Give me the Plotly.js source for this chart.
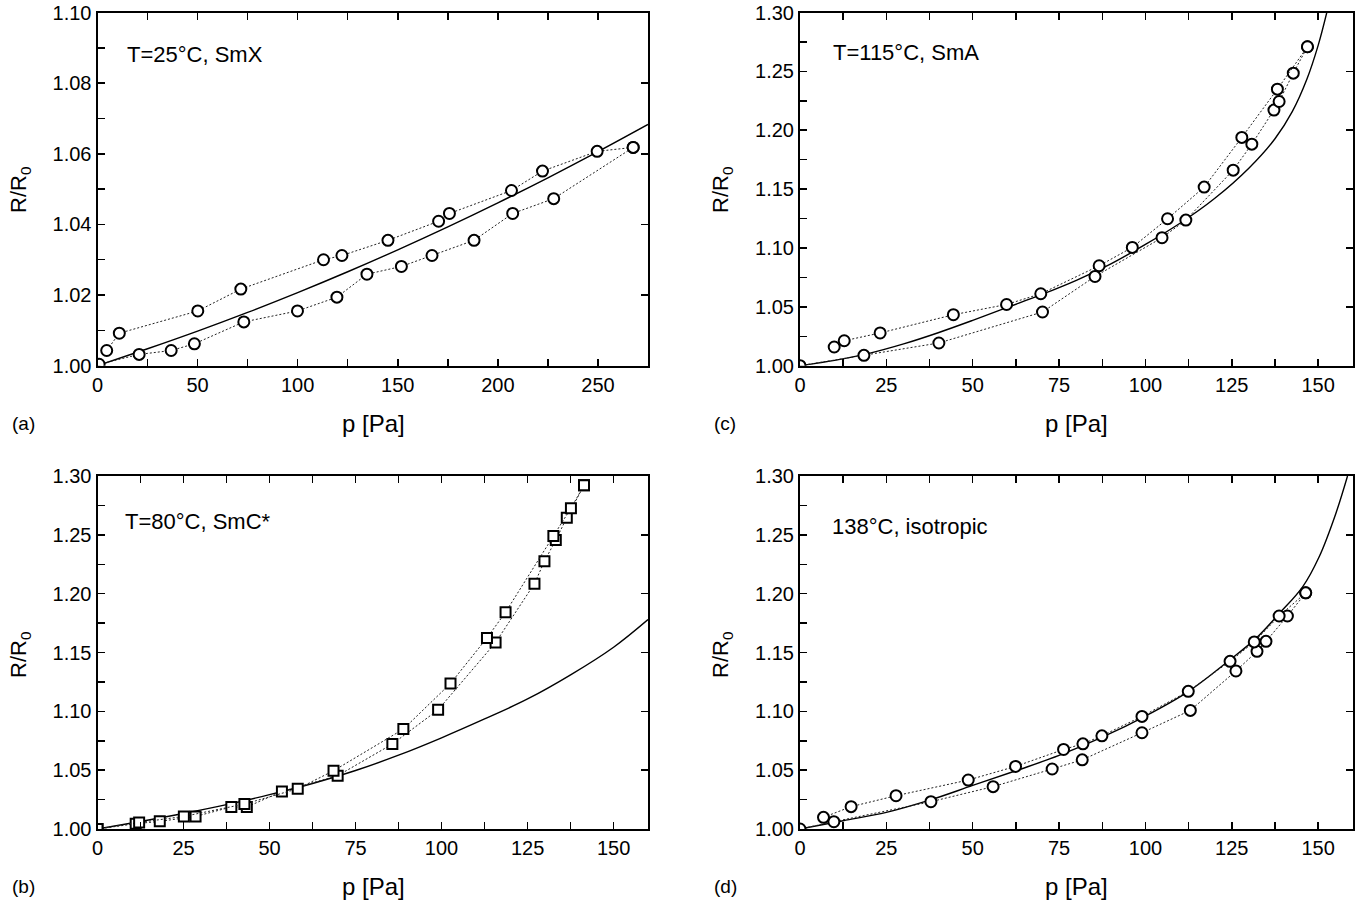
<!DOCTYPE html>
<html>
<head>
<meta charset="utf-8">
<script src="https://cdn.plot.ly/plotly-3.0.1.min.js"></script>
<style>html,body{margin:0;padding:0;background:#fff;}#chart{width:1363px;height:907px;}</style>
</head>
<body>
<div id="chart"></div>
<script>
// ---------- Panel (a): T=25°C, SmX ----------
const aUpP = [4.6, 10.9, 50.1, 71.6, 112.9, 122.1, 145.1, 170.4, 175.8, 206.8, 222.3, 249.6, 267.6];
const aUpR = [1.0043, 1.0092, 1.0155, 1.0217, 1.0300, 1.0312, 1.0355, 1.0409, 1.0431, 1.0496, 1.0551, 1.0607, 1.0618];
const aLoP = [0.8, 20.8, 36.8, 48.4, 73.1, 99.9, 119.6, 134.6, 151.8, 167.1, 188.1, 207.4, 227.9, 267.6];
const aLoR = [1.0004, 1.0032, 1.0043, 1.0062, 1.0124, 1.0155, 1.0194, 1.0259, 1.0281, 1.0312, 1.0355, 1.0431, 1.0473, 1.0618];
const aFitP = [0, 25, 50, 75, 100, 125, 150, 175, 200, 225, 250, 275];
const aFitR = [1.0, 1.0048, 1.0098, 1.0151, 1.0207, 1.0266, 1.0328, 1.0393, 1.0461, 1.0532, 1.0606, 1.0683];

// ---------- Panel (c): T=115°C, SmA ----------
const cUpP = [9.9, 12.8, 23.2, 44.4, 59.8, 69.7, 86.6, 96.2, 106.4, 117.0, 127.9, 138.2, 146.9];
const cUpR = [1.0159, 1.0212, 1.0278, 1.0433, 1.0520, 1.0611, 1.0849, 1.1005, 1.1248, 1.1517, 1.1939, 1.2349, 1.2709];
const cLoP = [0, 18.5, 40.2, 70.2, 85.4, 104.8, 111.7, 125.4, 130.8, 137.2, 138.7, 142.8, 146.9];
const cLoR = [1.0, 1.0088, 1.0193, 1.0456, 1.0758, 1.1087, 1.1237, 1.1661, 1.1882, 1.2171, 1.2244, 1.2485, 1.2709];
const cFitP = [0, 10, 20, 30, 40, 50, 60, 70, 80, 90, 100, 110, 120, 130, 137.5, 142.5, 146.7, 150, 152.6];
const cFitR = [1.0, 1.0045, 1.0105, 1.0185, 1.028, 1.0385, 1.0495, 1.0605, 1.0725, 1.0865, 1.103, 1.121, 1.142, 1.168, 1.1928, 1.2158, 1.2431, 1.2721, 1.3012];

// ---------- Panel (b): T=80°C, SmC* ----------
const bUpP = [0, 12.1, 25.1, 42.7, 58.2, 68.6, 88.9, 102.6, 113.2, 118.6, 132.5, 137.6, 141.4];
const bUpR = [1.0, 1.0056, 1.0107, 1.0212, 1.0342, 1.0495, 1.0849, 1.1237, 1.1624, 1.1842, 1.2490, 1.2726, 1.2921];
const bLoP = [0, 11.1, 18.1, 28.5, 38.9, 43.4, 53.6, 69.8, 85.7, 99.0, 115.7, 127.0, 129.9, 133.2, 136.4, 141.4];
const bLoR = [1.0, 1.0045, 1.0065, 1.0107, 1.0187, 1.0187, 1.0319, 1.0453, 1.0722, 1.1013, 1.1585, 1.2085, 1.2276, 1.2456, 1.2646, 1.2921];
const bFitP = [0, 12.5, 25, 37.5, 50, 62.5, 75, 87.5, 100, 112.5, 125, 137.5, 150, 160];
const bFitR = [1.0, 1.0064, 1.0132, 1.0207, 1.0292, 1.0387, 1.0497, 1.0627, 1.0775, 1.0935, 1.1105, 1.131, 1.1545, 1.178];

// ---------- Panel (d): 138°C, isotropic ----------
const dUpP = [6.8, 14.8, 27.8, 48.7, 62.4, 76.3, 81.9, 87.4, 99.0, 112.4, 124.5, 131.5, 138.7, 146.4];
const dUpR = [1.0099, 1.0190, 1.0283, 1.0416, 1.0532, 1.0676, 1.0724, 1.0792, 1.0957, 1.1170, 1.1425, 1.1590, 1.1810, 1.2007];
const dLoP = [0, 9.8, 37.9, 55.9, 73.0, 81.7, 99.0, 113.0, 126.2, 132.3, 134.9, 141.1, 146.4];
const dLoR = [1.0, 1.0062, 1.0232, 1.0360, 1.0510, 1.0588, 1.0818, 1.1008, 1.1343, 1.1510, 1.1595, 1.1810, 1.2007];
const dFitP = [0, 12.5, 25, 37.5, 50, 62.5, 75, 87.5, 100, 112.5, 124.3, 132, 138.7, 145.5, 150.3, 155.1, 158.5];
const dFitR = [1.0, 1.007, 1.0141, 1.0245, 1.037, 1.0495, 1.0625, 1.078, 1.096, 1.117, 1.1434, 1.162, 1.183, 1.2058, 1.2314, 1.268, 1.30];

const FONT = 'Liberation Sans, Arial, Helvetica, sans-serif';
const W = 1363, H = 907;

function fit(x, y, xa, ya) {
  return {x: x, y: y, xaxis: xa, yaxis: ya, mode: 'lines', type: 'scatter',
    line: {color: '#000', width: 1.4, shape: 'spline', smoothing: 1}, hoverinfo: 'skip', showlegend: false};
}
function dat(x, y, xa, ya, sym) {
  return {x: x, y: y, xaxis: xa, yaxis: ya, mode: 'lines+markers', type: 'scatter',
    line: {color: '#222', width: 1, dash: '2px,2px'},
    marker: {symbol: sym, size: sym === 'square' ? 10 : 11, color: '#fff', line: {color: '#000', width: 2}},
    showlegend: false};
}
function blank(xa, ya) {
  return {x: [null], y: [null], xaxis: xa, yaxis: ya, type: 'scatter', mode: 'markers', showlegend: false, hoverinfo: 'skip'};
}

const traces = [
  fit(aFitP, aFitR, 'x', 'y'), dat(aLoP, aLoR, 'x', 'y', 'circle'), dat(aUpP, aUpR, 'x', 'y', 'circle'),
  fit(cFitP, cFitR, 'x2', 'y2'), dat(cLoP, cLoR, 'x2', 'y2', 'circle'), dat(cUpP, cUpR, 'x2', 'y2', 'circle'),
  fit(bFitP, bFitR, 'x3', 'y3'), dat(bLoP, bLoR, 'x3', 'y3', 'square'), dat(bUpP, bUpR, 'x3', 'y3', 'square'),
  fit(dFitP, dFitR, 'x4', 'y4'), dat(dLoP, dLoR, 'x4', 'y4', 'circle'), dat(dUpP, dUpR, 'x4', 'y4', 'circle'),
  blank('x', 'y5'), blank('x2', 'y6'), blank('x3', 'y7'), blank('x4', 'y8')
];

const tickFont = {family: FONT, size: 20, color: '#000'};
function xAx(domain, anchor, range, dt) {
  return {domain: domain, anchor: anchor, range: range, tickmode: 'linear', tick0: 0, dtick: dt,
    ticks: 'inside', ticklen: 7, tickwidth: 1.5, tickcolor: '#000', mirror: 'ticks',
    minor: {tickmode: 'linear', tick0: 0, dtick: dt / 2, ticks: 'inside', ticklen: 7, tickwidth: 1.5, tickcolor: '#000'},
    showline: true, linewidth: 2, linecolor: '#000', showgrid: false, zeroline: false,
    tickfont: tickFont, fixedrange: true};
}
function yAx(domain, anchor, range, dt) {
  return {domain: domain, anchor: anchor, range: range, tickmode: 'linear', tick0: 1, dtick: dt, tickformat: '.2f',
    ticks: 'inside', ticklen: 7, tickwidth: 1.5, tickcolor: '#000', mirror: true,
    minor: {tickmode: 'linear', tick0: 1, dtick: dt / 2, ticks: 'inside', ticklen: 7, tickwidth: 1.5, tickcolor: '#000'},
    showline: true, linewidth: 2, linecolor: '#000', showgrid: false, zeroline: false,
    tickfont: tickFont, fixedrange: true};
}
function yRight(over, anchor, range, dt) {
  return {overlaying: over, side: 'right', anchor: anchor, range: range, tickmode: 'linear', tick0: 1, dtick: dt,
    ticks: 'inside', ticklen: 7, tickwidth: 1.5, tickcolor: '#000', showticklabels: false,
    showline: false, showgrid: false, zeroline: false, fixedrange: true};
}

const xL = [97.5 / W, 648 / W], xR = [800 / W, 1352.7 / W];
const yT = [1 - 365.7 / H, 1 - 12.5 / H], yB = [1 - 829 / H, 1 - 476 / H];

function ann(text, px, py, xa, ya, size, angle) {
  return {text: text, x: px / W, y: 1 - py / H, xref: 'paper', yref: 'paper', xanchor: xa, yanchor: ya,
    showarrow: false, textangle: angle || 0, font: {family: FONT, size: size, color: '#000'}};
}

const annotations = [
  ann('T=25°C, SmX', 125, 55, 'left', 'middle', 22),
  ann('T=115°C, SmA', 831, 53, 'left', 'middle', 22),
  ann('T=80°C, SmC*', 123, 521, 'left', 'middle', 22),
  ann('138°C, isotropic', 830, 526, 'left', 'middle', 22),
  ann('p [Pa]', 373, 423, 'center', 'middle', 24),
  ann('p [Pa]', 1076, 423, 'center', 'middle', 24),
  ann('p [Pa]', 373, 886, 'center', 'middle', 24),
  ann('p [Pa]', 1076, 886, 'center', 'middle', 24),
  ann('R/R<sub>0</sub>', 20, 190, 'center', 'middle', 22, -90),
  ann('R/R<sub>0</sub>', 722, 190, 'center', 'middle', 22, -90),
  ann('R/R<sub>0</sub>', 20, 655, 'center', 'middle', 22, -90),
  ann('R/R<sub>0</sub>', 722, 655, 'center', 'middle', 22, -90),
  ann('(a)', 10, 423, 'left', 'middle', 19),
  ann('(c)', 712, 423, 'left', 'middle', 19),
  ann('(b)', 10, 886, 'left', 'middle', 19),
  ann('(d)', 712, 886, 'left', 'middle', 19)
];

const layout = {
  width: W, height: H, margin: {l: 0, r: 0, t: 0, b: 0}, paper_bgcolor: '#fff', plot_bgcolor: '#fff',
  showlegend: false, font: {family: FONT, color: '#000'},
  xaxis: xAx(xL, 'y', [0, 275], 50),
  yaxis: yAx(yT, 'x', [1.0, 1.1], 0.02),
  xaxis2: xAx(xR, 'y2', [0, 160], 25),
  yaxis2: yAx(yT, 'x2', [1.0, 1.3], 0.05),
  xaxis3: xAx(xL, 'y3', [0, 160], 25),
  yaxis3: yAx(yB, 'x3', [1.0, 1.3], 0.05),
  xaxis4: xAx(xR, 'y4', [0, 160], 25),
  yaxis4: yAx(yB, 'x4', [1.0, 1.3], 0.05),
  yaxis5: yRight('y', 'x', [1.0, 1.1], 0.02),
  yaxis6: yRight('y2', 'x2', [1.0, 1.3], 0.05),
  yaxis7: yRight('y3', 'x3', [1.0, 1.3], 0.05),
  yaxis8: yRight('y4', 'x4', [1.0, 1.3], 0.05),
  annotations: annotations
};

Plotly.newPlot('chart', traces, layout, {staticPlot: true, displayModeBar: false});
</script>
</body>
</html>
